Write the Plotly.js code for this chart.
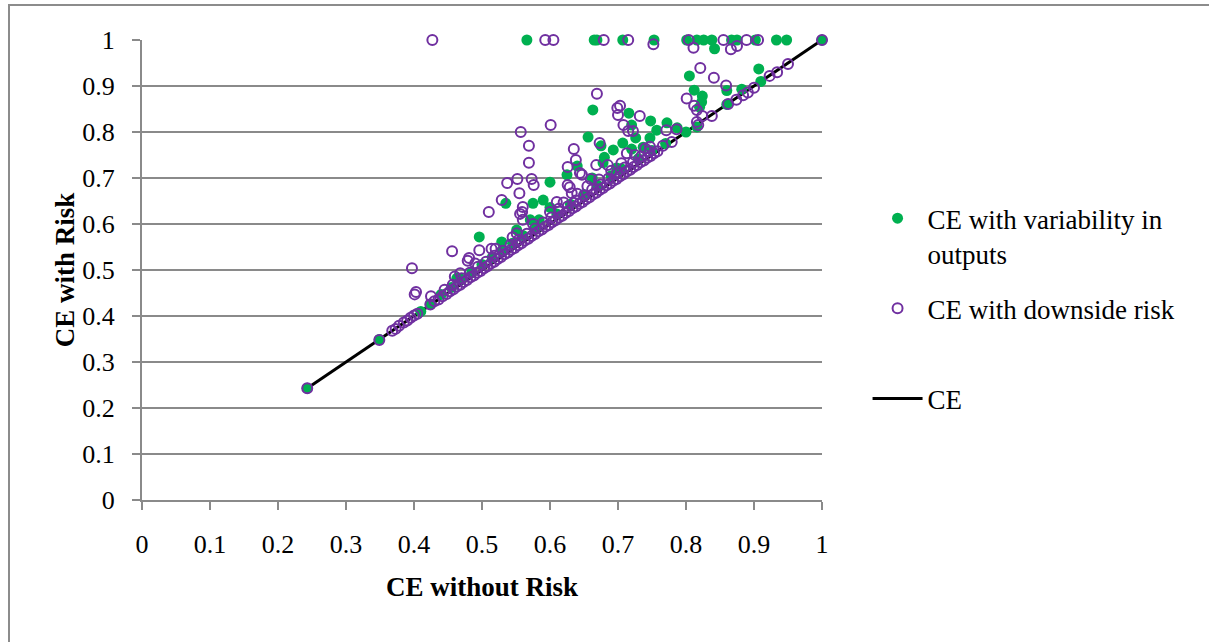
<!DOCTYPE html>
<html>
<head>
<meta charset="utf-8">
<script src="https://cdn.plot.ly/plotly-3.0.1.min.js"></script>
<style>
  html, body { margin: 0; padding: 0; background: #fff; overflow: hidden; }
  #wrap { position: relative; width: 1209px; height: 642px; }
  #chart { position: absolute; left: 0; top: 0; width: 1209px; height: 642px; }
  #frame { position: absolute; left: 8px; top: 4px; width: 1400px; height: 800px;
           border-left: 2px solid #8c8c8c; border-top: 2px solid #8c8c8c; pointer-events: none; }
</style>
</head>
<body>
<div id="wrap"><div id="chart"></div><div id="frame"></div></div>
<script>
// ---- data ----
const greenX = [0.566,0.665,0.669,0.707,0.753,0.801,0.816,0.826,0.838,0.842,0.867,0.875,0.902,0.933,0.948,1.0,
  0.805,0.907,0.812,0.824,0.820,0.816,0.882,0.860,0.823,
  0.663,0.716,0.748,0.772,0.720,0.757,0.787,0.656,0.726,0.747,0.707,0.693,0.720,0.737,0.675,
  0.640,0.678,0.625,0.600,0.662,0.535,0.575,0.590,0.600,0.496,0.529,0.551,0.571,0.584,0.463,
  0.243,0.349,0.410,0.424,0.440,0.455,0.470,0.485,0.500,0.515,0.530,0.545,0.560,0.580,0.610,0.630,0.650,0.670,0.690,0.705,0.730,0.750,0.770,0.800,0.860,0.910,
  0.680,0.698];
const greenY = [1,1,1,1,1,1,1,1,1,0.981,1,1,1,1,1,1,
  0.922,0.937,0.891,0.878,0.854,0.811,0.893,0.890,0.865,
  0.848,0.841,0.824,0.820,0.815,0.804,0.809,0.789,0.787,0.787,0.776,0.761,0.763,0.767,0.770,
  0.726,0.733,0.707,0.691,0.700,0.645,0.645,0.652,0.636,0.572,0.561,0.587,0.609,0.609,0.482,
  0.243,0.349,0.410,0.426,0.447,0.462,0.480,0.495,0.512,0.527,0.543,0.558,0.575,0.592,0.622,0.643,0.664,0.684,0.705,0.720,0.742,0.760,0.775,0.800,0.860,0.910,
  0.745,0.722];

const purpleX = [0.427,0.593,0.605,0.679,0.715,0.752,0.804,0.811,0.855,0.866,0.875,0.889,0.906,1.0,
  0.821,0.841,0.859,0.801,0.812,0.816,0.824,0.838,0.816,0.818,0.786,0.771,0.862,0.874,0.884,0.891,0.900,0.923,0.934,0.950,0.779,0.766,
  0.669,0.699,0.703,0.700,0.732,0.708,0.722,0.715,0.747,0.713,0.673,0.601,0.557,0.569,0.569,0.635,0.638,0.626,0.647,0.644,0.668,0.685,0.660,0.626,0.629,0.632,
  0.537,0.552,0.573,0.576,0.555,0.529,0.560,0.559,0.556,0.560,0.610,0.613,0.510,0.551,0.496,0.456,0.481,0.479,0.514,0.468,0.397,0.403,0.401,0.425,
  0.243,0.349,0.368,0.373,0.378,0.385,0.390,0.395,0.400,0.405,0.424,0.430,
  0.436,0.442,0.448,0.453,0.458,0.463,0.468,0.473,0.478,0.483,0.488,0.493,0.498,0.503,0.508,0.513,0.518,0.523,0.528,0.533,0.538,0.543,0.548,0.553,0.558,0.563,0.568,0.573,0.578,0.583,0.588,0.593,0.598,0.603,0.608,0.613,0.618,0.623,0.628,0.633,0.638,0.643,0.648,0.653,0.658,0.663,0.668,0.673,0.678,0.683,0.688,0.693,0.698,0.703,0.708,0.713,0.718,0.723,0.728,0.733,0.738,0.743,0.748,0.753,0.758,
  0.445,0.457,0.470,0.482,0.494,0.506,0.518,0.530,0.542,0.554,0.566,0.578,0.590,0.602,0.614,0.626,0.638,0.650,0.662,0.674,0.686,0.698,0.710,0.722,0.734,0.746,
  0.460,0.490,0.520,0.545,0.575,0.600,0.620,0.640,0.655,0.672,0.690,0.705,0.725,0.740];
const purpleY = [1,1,1,1,1,0.991,1,0.983,1,0.980,0.987,1,1,1,
  0.939,0.918,0.901,0.873,0.857,0.848,0.835,0.835,0.822,0.815,0.806,0.804,0.861,0.870,0.880,0.886,0.896,0.922,0.930,0.948,0.778,0.770,
  0.883,0.852,0.857,0.837,0.835,0.815,0.802,0.802,0.768,0.754,0.776,0.815,0.800,0.770,0.733,0.763,0.739,0.724,0.707,0.711,0.728,0.728,0.698,0.685,0.680,0.667,
  0.689,0.698,0.698,0.685,0.667,0.652,0.637,0.626,0.622,0.609,0.648,0.633,0.626,0.580,0.543,0.541,0.526,0.520,0.546,0.493,0.504,0.452,0.447,0.443,
  0.243,0.348,0.368,0.372,0.379,0.386,0.390,0.396,0.401,0.405,0.425,0.432,
  0.436,0.443,0.448,0.454,0.458,0.464,0.468,0.474,0.478,0.484,0.488,0.494,0.498,0.504,0.508,0.514,0.518,0.524,0.528,0.534,0.538,0.544,0.548,0.554,0.558,0.564,0.568,0.574,0.578,0.584,0.588,0.594,0.598,0.604,0.608,0.614,0.618,0.624,0.628,0.634,0.638,0.644,0.648,0.654,0.658,0.664,0.668,0.674,0.678,0.684,0.688,0.694,0.698,0.704,0.708,0.714,0.718,0.724,0.728,0.734,0.738,0.744,0.748,0.754,0.758,
  0.457,0.468,0.482,0.494,0.507,0.518,0.531,0.542,0.555,0.566,0.579,0.590,0.603,0.614,0.627,0.638,0.651,0.662,0.675,0.686,0.699,0.710,0.723,0.734,0.747,0.758,
  0.486,0.514,0.546,0.571,0.600,0.626,0.647,0.666,0.682,0.697,0.716,0.732,0.750,0.764];

const lineX = [0.243, 1.0];
const lineY = [0.243, 1.0];

const seriesNames = ['CE with variability in<br>outputs', 'CE with downside risk<br> ', 'CE'];
const axisTitles = ['CE without Risk', 'CE with Risk'];

// ---- chart ----
const FONT = 'Liberation Serif, Times New Roman, serif';
const GRAY = '#8a8a8a';

const traces = [
  { x: lineX, y: lineY, type: 'scatter', mode: 'lines', name: seriesNames[2],
    line: { color: '#000000', width: 3 }, legendrank: 3, legendgroup: 'c', hoverinfo: 'skip' },
  { x: greenX, y: greenY, type: 'scatter', mode: 'markers', name: seriesNames[0],
    marker: { symbol: 'circle', size: 11, color: '#00B050' }, cliponaxis: false,
    legendrank: 1, legendgroup: 'a' },
  { x: purpleX, y: purpleY, type: 'scatter', mode: 'markers', name: seriesNames[1],
    marker: { symbol: 'circle-open', size: 10, color: '#7030A0', line: { width: 2, color: '#7030A0' } },
    cliponaxis: false, legendrank: 2, legendgroup: 'b' }
];

const layout = {
  width: 1209, height: 642,
  margin: { l: 142, r: 387, t: 40, b: 142, pad: 0 },
  paper_bgcolor: '#ffffff', plot_bgcolor: '#ffffff',
  font: { family: FONT, color: '#000000', size: 26 },
  showlegend: true,
  legend: {
    x: 1.067, y: 0.665, xanchor: 'left', yanchor: 'top',
    font: { family: FONT, size: 27, color: '#000000' },
    itemwidth: 50, traceorder: 'grouped', tracegroupgap: 17, valign: 'top',
    bgcolor: 'rgba(0,0,0,0)'
  },
  xaxis: {
    range: [0, 1], tick0: 0, dtick: 0.1, autorange: false,
    showgrid: false, zeroline: false,
    showline: true, linecolor: GRAY, linewidth: 2,
    ticks: 'outside', ticklen: 8, tickwidth: 2, tickcolor: GRAY,
    tickfont: { family: FONT, size: 26, color: '#000000' },
    ticklabelstandoff: 12,
    title: { text: '<b>' + axisTitles[0] + '</b>', font: { family: FONT, size: 27, color: '#000000' }, standoff: 19 }
  },
  yaxis: {
    range: [0, 1], tick0: 0, dtick: 0.1, autorange: false,
    showgrid: true, gridcolor: GRAY, gridwidth: 2, zeroline: false,
    showline: true, linecolor: GRAY, linewidth: 2,
    ticks: 'outside', ticklen: 8, tickwidth: 2, tickcolor: GRAY,
    tickfont: { family: FONT, size: 26, color: '#000000' },
    ticklabelstandoff: 12,
    title: { text: '<b>' + axisTitles[1] + '</b>', font: { family: FONT, size: 27, color: '#000000' }, standoff: 0 }
  }
};

Plotly.newPlot('chart', traces, layout, { staticPlot: true, displayModeBar: false });
</script>
</body>
</html>
